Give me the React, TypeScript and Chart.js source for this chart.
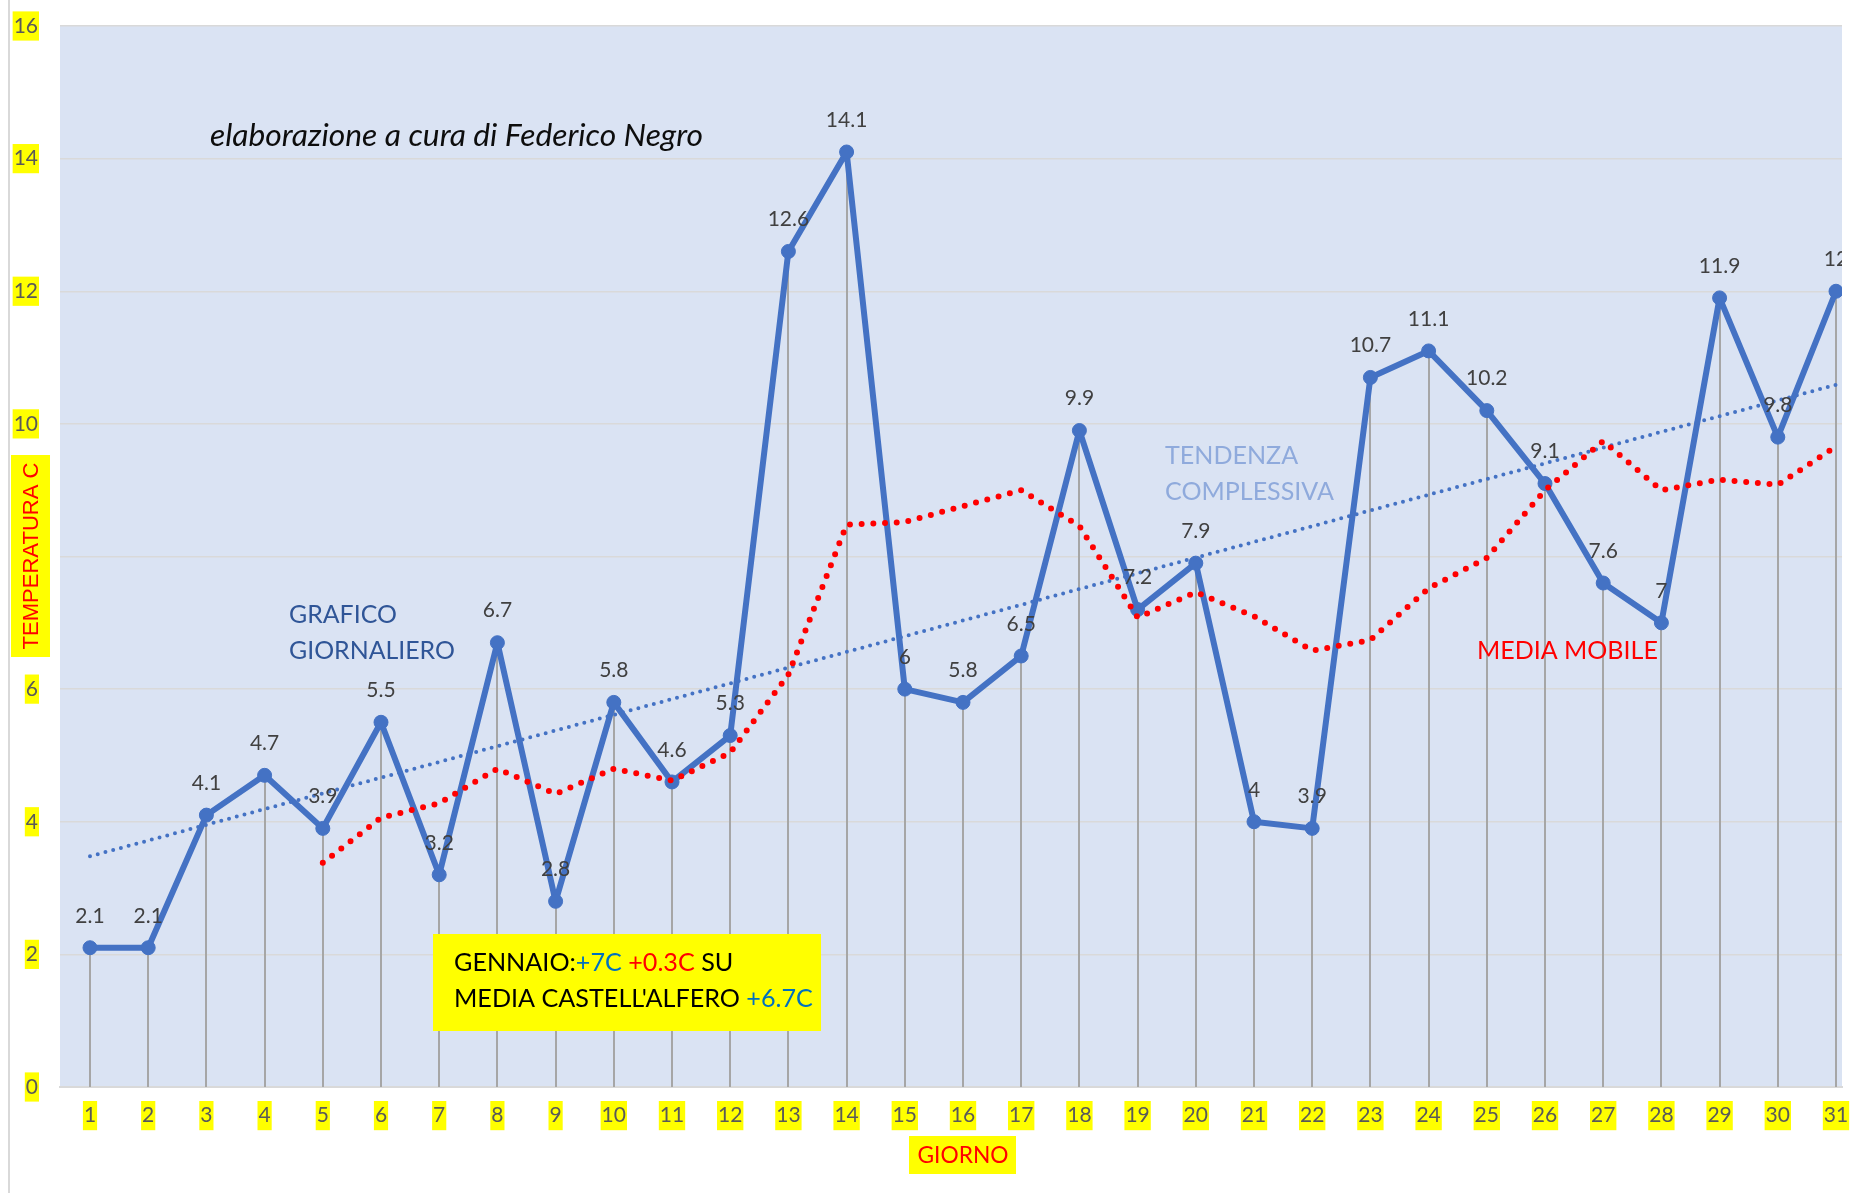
import React, { useEffect, useRef } from 'react';
import { Chart, registerables } from 'chart.js';

Chart.register(...registerables);

// ---------- data ----------
const days = [1, 2, 3, 4, 5, 6, 7, 8, 9, 10, 11, 12, 13, 14, 15, 16, 17, 18, 19, 20, 21, 22, 23, 24, 25, 26, 27, 28, 29, 30, 31];
const dailyTemps = [2.1, 2.1, 4.1, 4.7, 3.9, 5.5, 3.2, 6.7, 2.8, 5.8, 4.6, 5.3, 12.6, 14.1, 6, 5.8, 6.5, 9.9, 7.2, 7.9, 4, 3.9, 10.7, 11.1, 10.2, 9.1, 7.6, 7, 11.9, 9.8, 12];
const movingAvgDays = [5, 6, 7, 8, 9, 10, 11, 12, 13, 14, 15, 16, 17, 18, 19, 20, 21, 22, 23, 24, 25, 26, 27, 28, 29, 30, 31];
const movingAvgValues = [3.38, 4.06, 4.28, 4.8, 4.42, 4.8, 4.62, 5.04, 6.22, 8.48, 8.52, 8.76, 9.0, 8.46, 7.08, 7.46, 7.1, 6.58, 6.74, 7.52, 7.98, 9.0, 9.74, 9.0, 9.16, 9.08, 9.66];
const trendDays = [1, 31];
const trendValues = [3.48, 10.59];
const yTickValues = [0, 2, 4, 6, 8, 10, 12, 14, 16];

const yAxisTitle = 'TEMPERATURA C';
const xAxisTitle = 'GIORNO';
const creditText = 'elaborazione a cura di Federico Negro';
const dailyLabelLines = ['GRAFICO', 'GIORNALIERO'];
const trendLabelLines = ['TENDENZA', 'COMPLESSIVA'];
const movingAvgLabel = 'MEDIA MOBILE';
const boxLine1 = [
  { t: 'GENNAIO:', c: '#000000' },
  { t: '+7C', c: '#0070C0' },
  { t: ' +0.3C', c: '#FF0000' },
  { t: ' SU', c: '#000000' },
];
const boxLine2 = [
  { t: "MEDIA CASTELL'ALFERO ", c: '#000000' },
  { t: '+6.7C', c: '#0070C0' },
];

// ---------- styling ----------
const FONT = 'Lato, "Open Sans", "Noto Sans", sans-serif';
const ARIAL = '"Liberation Sans", Arial, sans-serif';
const BLUE = '#4472C4';
const W = 1850;
const H = 1193;

function fitSize(ctx: CanvasRenderingContext2D, text: string, style: string, family: string, target: number) {
  ctx.font = `${style} 100px ${family}`;
  const w = ctx.measureText(text).width;
  return (100 * target) / w;
}

const decor = {
  id: 'decor',
  beforeDraw(chart: any) {
    const { ctx, chartArea: a } = chart;
    ctx.save();
    ctx.fillStyle = '#FFFFFF';
    ctx.fillRect(0, 0, W, H);
    ctx.fillStyle = '#DAE3F3';
    ctx.fillRect(a.left, a.top, a.right - a.left, a.bottom - a.top);
    ctx.strokeStyle = '#D9D9D9';
    ctx.lineWidth = 2;
    ctx.beginPath();
    ctx.moveTo(9, 0);
    ctx.lineTo(9, H);
    ctx.stroke();
    ctx.restore();
  },
  beforeDatasetsDraw(chart: any) {
    const { ctx } = chart;
    const xs = chart.scales.x;
    const ys = chart.scales.y;
    ctx.save();
    ctx.strokeStyle = '#A6A6A6';
    ctx.lineWidth = 2;
    ctx.beginPath();
    days.forEach((d, i) => {
      const px = Math.round(xs.getPixelForValue(d));
      ctx.moveTo(px, ys.getPixelForValue(dailyTemps[i]));
      ctx.lineTo(px, ys.getPixelForValue(0));
    });
    ctx.stroke();
    ctx.restore();
  },
  afterDatasetsDraw(chart: any) {
    const { ctx, chartArea: a } = chart;
    const xs = chart.scales.x;
    const ys = chart.scales.y;
    ctx.save();
    ctx.beginPath();
    ctx.rect(0, 0, a.right, H);
    ctx.clip();
    ctx.font = `21px ${FONT}`;
    ctx.fillStyle = '#404040';
    ctx.textAlign = 'center';
    ctx.textBaseline = 'middle';
    days.forEach((d, i) => {
      const px = xs.getPixelForValue(d);
      const py = ys.getPixelForValue(dailyTemps[i]);
      ctx.fillText(String(dailyTemps[i]), px, py - 32);
    });
    ctx.restore();
  },
  afterDraw(chart: any) {
    const { ctx } = chart;
    ctx.save();
    ctx.textBaseline = 'middle';
    ctx.textAlign = 'left';

    // credit
    let s = fitSize(ctx, creditText, 'italic', FONT, 493);
    ctx.font = `italic ${s}px ${FONT}`;
    ctx.fillStyle = '#0D0D0D';
    ctx.fillText(creditText, 210, 136);

    // GRAFICO GIORNALIERO
    s = fitSize(ctx, dailyLabelLines[1], '', FONT, 166);
    ctx.font = `${s}px ${FONT}`;
    ctx.fillStyle = '#2F5597';
    ctx.fillText(dailyLabelLines[0], 289, 615);
    ctx.fillText(dailyLabelLines[1], 289, 651);

    // TENDENZA COMPLESSIVA
    s = fitSize(ctx, trendLabelLines[1], '', FONT, 169);
    ctx.font = `${s}px ${FONT}`;
    ctx.fillStyle = '#8FAADC';
    ctx.fillText(trendLabelLines[0], 1165, 456);
    ctx.fillText(trendLabelLines[1], 1165, 492);

    // MEDIA MOBILE
    s = fitSize(ctx, movingAvgLabel, '', FONT, 181);
    ctx.font = `${s}px ${FONT}`;
    ctx.fillStyle = '#FF0000';
    ctx.fillText(movingAvgLabel, 1477, 651);

    // yellow box
    ctx.fillStyle = '#FFFF00';
    ctx.fillRect(433, 934, 388, 97);
    s = fitSize(ctx, boxLine2.map((p) => p.t).join(''), '', FONT, 359);
    ctx.font = `${s}px ${FONT}`;
    const drawParts = (parts: { t: string; c: string }[], x: number, y: number) => {
      let cx = x;
      parts.forEach((p) => {
        ctx.fillStyle = p.c;
        ctx.fillText(p.t, cx, y);
        cx += ctx.measureText(p.t).width;
      });
    };
    drawParts(boxLine1, 454, 963);
    drawParts(boxLine2, 454, 999);

    // x-axis title
    ctx.fillStyle = '#FFFF00';
    ctx.fillRect(909, 1136, 107, 38);
    s = fitSize(ctx, xAxisTitle, '', FONT, 91);
    ctx.font = `${s}px ${FONT}`;
    ctx.fillStyle = '#FF0000';
    ctx.textAlign = 'center';
    ctx.fillText(xAxisTitle, 963, 1156);

    // y-axis title
    ctx.fillStyle = '#FFFF00';
    ctx.fillRect(11, 455, 39, 202);
    s = fitSize(ctx, yAxisTitle, '', ARIAL, 187);
    ctx.translate(31, 556);
    ctx.rotate(-Math.PI / 2);
    ctx.font = `${s}px ${ARIAL}`;
    ctx.fillStyle = '#FF0000';
    ctx.textAlign = 'center';
    ctx.fillText(yAxisTitle, 0, 1);
    ctx.restore();
  },
};

export default function App() {
  const ref = useRef<HTMLCanvasElement | null>(null);

  useEffect(() => {
    if (!ref.current) return;
    const firstPx = 90;
    const lastPx = 1836;
    const left = 60;
    const right = 1842;
    const step = (lastPx - firstPx) / (days.length - 1);
    const xMin = days[0] - (firstPx - left) / step;
    const xMax = days[days.length - 1] + (right - lastPx) / step;

    const chart = new Chart(ref.current, {
      type: 'line',
      data: {
        datasets: [
          {
            label: 'Media mobile',
            data: movingAvgDays.map((d, i) => ({ x: d, y: movingAvgValues[i] })),
            borderColor: '#FF0000',
            borderWidth: 6,
            borderDash: [0, 11.7],
            borderCapStyle: 'round',
            pointRadius: 0,
            tension: 0,
            order: 1,
          },
          {
            label: 'Tendenza',
            data: trendDays.map((d, i) => ({ x: d, y: trendValues[i] })),
            borderColor: BLUE,
            borderWidth: 4,
            borderDash: [0, 8],
            borderCapStyle: 'round',
            pointRadius: 0,
            order: 2,
          },
          {
            label: 'Grafico giornaliero',
            data: days.map((d, i) => ({ x: d, y: dailyTemps[i] })),
            borderColor: BLUE,
            backgroundColor: BLUE,
            borderWidth: 6,
            borderJoinStyle: 'round',
            pointRadius: 7,
            pointBackgroundColor: BLUE,
            pointBorderColor: BLUE,
            pointBorderWidth: 1,
            order: 3,
          },
        ],
      } as any,
      options: {
        responsive: false,
        animation: false,
        layout: { padding: { top: 26, right: W - right, left: 0, bottom: 0 } },
        plugins: {
          legend: { display: false },
          tooltip: { enabled: false },
          title: { display: false },
        },
        scales: {
          x: {
            type: 'linear',
            min: xMin,
            max: xMax,
            afterBuildTicks: (s: any) => {
              s.ticks = days.map((v) => ({ value: v }));
            },
            afterFit: (s: any) => {
              s.height = H - 1087;
              s.paddingLeft = 0;
              s.paddingRight = 0;
            },
            grid: { display: false, drawTicks: false },
            border: { display: true, color: '#D9D9D9', width: 2 },
            ticks: {
              padding: 16,
              color: '#595959',
              font: { family: FONT, size: 21 },
              showLabelBackdrop: true,
              backdropColor: '#FFFF00',
              backdropPadding: { top: 2, bottom: 2, left: 1, right: 1 },
              maxRotation: 0,
              autoSkip: false,
            },
          },
          y: {
            type: 'linear',
            min: 0,
            max: 16,
            afterBuildTicks: (s: any) => {
              s.ticks = yTickValues.map((v) => ({ value: v }));
            },
            afterFit: (s: any) => {
              s.width = left;
              s.paddingTop = 0;
              s.paddingBottom = 0;
            },
            grid: { color: '#D9D9D9', lineWidth: 1.5, drawTicks: false },
            border: { display: false },
            ticks: {
              padding: 22,
              color: '#595959',
              font: { family: FONT, size: 21 },
              showLabelBackdrop: true,
              backdropColor: '#FFFF00',
              backdropPadding: { top: 2, bottom: 2, left: 1, right: 1 },
              crossAlign: 'near',
            },
          },
        },
      } as any,
      plugins: [decor as any],
    });
    return () => chart.destroy();
  }, []);

  return (
    <div style={{ position: 'fixed', left: 0, top: 0, width: W, height: H, background: '#fff' }}>
      <canvas ref={ref} width={W} height={H} style={{ display: 'block', width: W, height: H }} />
    </div>
  );
}
